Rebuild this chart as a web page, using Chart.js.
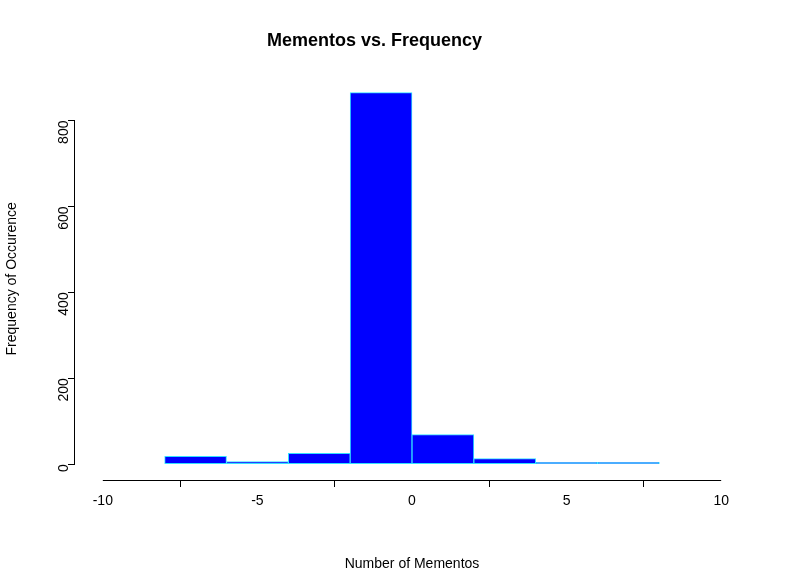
<!DOCTYPE html>
<html><head><meta charset="utf-8">
<script src="https://cdn.jsdelivr.net/npm/chart.js@4"></script>
<style>html,body{margin:0;padding:0;background:#fff;}</style>
</head><body>
<canvas id="c" width="787" height="577"></canvas>
<script>
const binCenters = [-7, -5, -3, -1, 1, 3, 5, 7];
const counts = [18, 6, 25, 865, 69, 13, 4, 4];
const xTicks = [-10, -5, 0, 5, 10];
const yTicks = [0, 200, 400, 600, 800];

const axisLines = {
  id: 'axisLines',
  afterDraw(chart) {
    const ctx = chart.ctx, x = chart.scales.x, y = chart.scales.y, a = chart.chartArea;
    ctx.save(); ctx.strokeStyle = '#000'; ctx.lineWidth = 1;
    ctx.beginPath();
    ctx.moveTo(x.getPixelForValue(xTicks[0]), a.bottom + 0.5);
    ctx.lineTo(x.getPixelForValue(xTicks[xTicks.length-1]), a.bottom + 0.5);
    ctx.moveTo(a.left - 0.5, y.getPixelForValue(yTicks[0]));
    ctx.lineTo(a.left - 0.5, y.getPixelForValue(yTicks[yTicks.length-1]));
    ctx.stroke(); ctx.restore();
  }
};

new Chart(document.getElementById('c'), {
  type: 'bar',
  data: { datasets: [{
    data: binCenters.map((c, i) => ({x: c, y: counts[i]})),
    backgroundColor: '#0000FF', borderColor: '#33E0FF', borderWidth: 1,
    barPercentage: 1, categoryPercentage: 1, borderSkipped: false
  }]},
  options: {
    responsive: false, devicePixelRatio: 1, animation: false,
    layout: { padding: { left: 0, right: 38, top: 0, bottom: 0 } },
    plugins: {
      legend: { display: false }, tooltip: { enabled: false },
      title: { display: true, text: 'Mementos vs. Frequency', color: '#000',
        font: { family: 'Liberation Sans, Arial', size: 18, weight: 'bold' },
        padding: { top: 30, bottom: 26 } }
    },
    scales: {
      x: { type: 'linear', min: -10.9, max: 10.9, offset: false,
        afterBuildTicks(s) { s.ticks = xTicks.map(v => ({value: v})); },
        afterFit(s) { s.height = 97; },
        grid: { display: true, drawOnChartArea: false, drawTicks: true, tickLength: 7, color: '#000' },
        border: { display: false },
        ticks: { color: '#000', font: { family: 'Liberation Sans, Arial', size: 14 }, padding: 6, maxRotation: 0 },
        title: { display: true, text: 'Number of Mementos', color: '#000',
          font: { family: 'Liberation Sans, Arial', size: 14 }, padding: { top: 16 } } },
      y: { min: -37, max: 900,
        afterBuildTicks(s) { s.ticks = yTicks.map(v => ({value: v})); },
        afterFit(s) { s.width = 75; },
        grid: { display: true, drawOnChartArea: false, drawTicks: true, tickLength: 7, color: '#000' },
        border: { display: false },
        ticks: { color: '#000', font: { family: 'Liberation Sans, Arial', size: 14 }, minRotation: 90, maxRotation: 90, padding: 4 },
        title: { display: true, text: 'Frequency of Occurence', color: '#000',
          font: { family: 'Liberation Sans, Arial', size: 14 }, padding: { bottom: 4 } } }
    }
  },
  plugins: [axisLines]
});
</script>
</body></html>
